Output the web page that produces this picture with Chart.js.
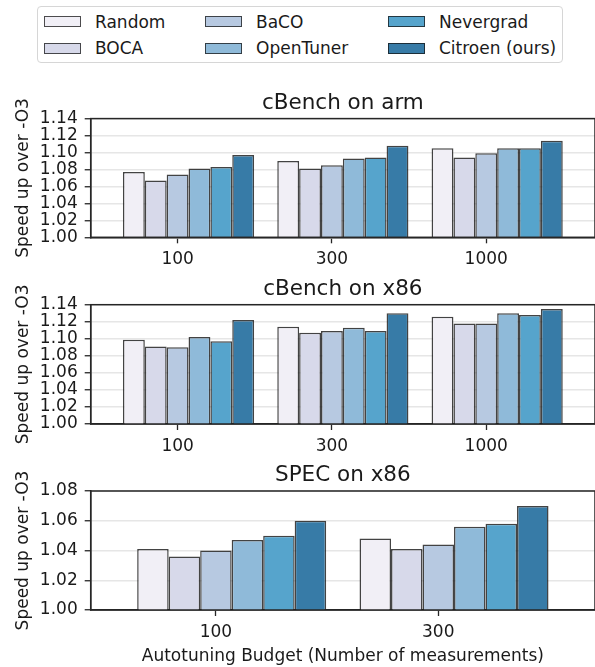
<!DOCTYPE html>
<html>
<head>
<meta charset="utf-8">
<script src="https://cdn.jsdelivr.net/npm/chart.js@4.4.1/dist/chart.umd.min.js"></script>
<style>
  body { margin: 0; width: 595px; height: 667px; background: #fff; position: relative; overflow: hidden; font-family: "DejaVu Sans", sans-serif; }
  canvas { position: absolute; left: 0; }
  #legend { position: absolute; left: 37px; top: 6px; width: 526px; height: 57px; border: 1px solid #d6d6d6; border-radius: 4px; box-sizing: border-box; }
  .item { position: absolute; height: 20px; display: flex; align-items: center; font-size: 17px; color: #1a1a1a; white-space: nowrap; }
  .patch { width: 37px; height: 11px; border: 1px solid rgba(20,20,20,0.75); margin-right: 14px; box-sizing: border-box; }
</style>
</head>
<body>
<div id="legend"></div>
<canvas id="armChart"></canvas>
<canvas id="x86Chart"></canvas>
<canvas id="specChart"></canvas>
<script>
const methods = ["Random", "BOCA", "BaCO", "OpenTuner", "Nevergrad", "Citroen (ours)"];
const colors = ["#f1eff6", "#d7d9ea", "#b7c9e1", "#8fbad9", "#56a4cc", "#377ba7"];

const cbenchBudgets = ["100", "300", "1000"];
const specBudgets = ["100", "300"];

const cbenchTicks = [1.00, 1.02, 1.04, 1.06, 1.08, 1.10, 1.12, 1.14];
const specTicks = [1.00, 1.02, 1.04, 1.06, 1.08];

// one row per method, one value per budget
const armSpeedup = [
  [1.077, 1.090, 1.105],
  [1.067, 1.081, 1.094],
  [1.074, 1.085, 1.099],
  [1.081, 1.093, 1.105],
  [1.083, 1.094, 1.105],
  [1.097, 1.108, 1.114],
];
const x86Speedup = [
  [1.099, 1.114, 1.126],
  [1.091, 1.107, 1.118],
  [1.090, 1.109, 1.118],
  [1.102, 1.113, 1.130],
  [1.097, 1.109, 1.128],
  [1.122, 1.130, 1.135],
];
const specSpeedup = [
  [1.041, 1.048],
  [1.036, 1.041],
  [1.040, 1.044],
  [1.047, 1.056],
  [1.050, 1.058],
  [1.060, 1.070],
];

const FONT = "'DejaVu Sans', sans-serif";
const INK = "#262626";
const GROUP = 0.85;
const MARGIN = 0.634;

// legend (3 columns, filled top to bottom)
const legend = document.getElementById("legend");
const colX = [6, 167, 350];
const rowY = [4.5, 31];
methods.forEach((m, i) => {
  const item = document.createElement("div");
  item.className = "item";
  item.style.left = colX[Math.floor(i / 2)] + "px";
  item.style.top = rowY[i % 2] + "px";
  const patch = document.createElement("div");
  patch.className = "patch";
  patch.style.background = colors[i];
  item.appendChild(patch);
  item.appendChild(document.createTextNode(m));
  legend.appendChild(item);
});

const framePlugin = {
  id: "frame",
  afterDraw(chart) {
    const a = chart.chartArea;
    const ctx = chart.ctx;
    ctx.save();
    ctx.strokeStyle = INK;
    ctx.lineWidth = 1.5;
    ctx.strokeRect(a.left, a.top, a.right - a.left, a.bottom - a.top);
    ctx.restore();
  },
};

function makeChart(id, title, budgets, values, yTicks, plotTop, plotBottom, xTitle) {
  const canvas = document.getElementById(id);
  const top = Math.floor(plotTop - 39);
  const bottom = xTitle ? 667 : Math.ceil(plotBottom + 30);
  canvas.width = 595;
  canvas.height = bottom - top;
  canvas.style.top = top + "px";

  const padTop = plotTop - 15.2 - 12.9 - top;
  const padBottom = plotTop - top - padTop - 25.8;
  const xh = bottom - plotBottom;
  const shift = GROUP / 12;

  const datasets = methods.map((m, i) => ({
    label: m,
    data: budgets.map((b, j) => ({ x: j, y: values[i][j] })),
    backgroundColor: colors[i],
    borderColor: "rgba(20,20,20,0.8)",
    borderWidth: 1.5,
    categoryPercentage: GROUP,
    barPercentage: 1,
  }));

  return new Chart(canvas, {
    type: "bar",
    data: { datasets },
    options: {
      responsive: false,
      animation: false,
      layout: { padding: 0 },
      plugins: {
        legend: { display: false },
        tooltip: { enabled: false },
        title: {
          display: true,
          fullSize: false,
          text: title,
          color: "#1a1a1a",
          font: { family: FONT, size: 21.5, weight: "normal", lineHeight: 1.2 },
          padding: { top: padTop, bottom: padBottom },
        },
      },
      scales: {
        x: {
          type: "linear",
          bounds: "data",
          offset: false,
          min: -MARGIN,
          max: budgets.length - 1 + MARGIN,
          afterBuildTicks: (scale) => {
            scale.ticks = budgets.map((b, j) => ({ value: j - shift }));
          },
          afterFit: (scale) => { scale.height = xh; },
          ticks: {
            callback: (v, idx) => budgets[idx],
            color: "#1a1a1a",
            font: { family: FONT, size: 17 },
            padding: 6.5,
            maxRotation: 0,
            autoSkip: false,
          },
          grid: { offset: false, drawOnChartArea: false, drawTicks: true, tickLength: 6, tickColor: INK, tickWidth: 1.3 },
          border: { display: true, color: INK, width: 1.5 },
          title: {
            display: !!xTitle,
            text: xTitle || "",
            color: "#1a1a1a",
            font: { family: FONT, size: 17, lineHeight: 1.2 },
            padding: { top: 0, bottom: 0.4 },
          },
        },
        y: {
          bounds: "data",
          min: yTicks[0],
          max: yTicks[yTicks.length - 1],
          afterBuildTicks: (scale) => {
            scale.ticks = yTicks.map((t) => ({ value: t }));
          },
          afterFit: (scale) => { scale.width = 90.7; },
          ticks: {
            callback: (v) => v.toFixed(2),
            color: "#1a1a1a",
            font: { family: FONT, size: 17 },
            padding: 7,
            autoSkip: false,
          },
          grid: { color: "#e6e6e6", lineWidth: 1.5, tickLength: 6, tickColor: INK, tickWidth: 1.3 },
          border: { display: true, color: INK, width: 1.5 },
          title: {
            display: true,
            text: "Speed up over -O3",
            color: "#1a1a1a",
            font: { family: FONT, size: 17, lineHeight: 1.2 },
            padding: { top: 13, bottom: 0 },
          },
        },
      },
    },
    plugins: [framePlugin],
  });
}

makeChart("armChart", "cBench on arm", cbenchBudgets, armSpeedup, cbenchTicks, 118.6, 237.3);
makeChart("x86Chart", "cBench on x86", cbenchBudgets, x86Speedup, cbenchTicks, 304.7, 424);
makeChart("specChart", "SPEC on x86", specBudgets, specSpeedup, specTicks, 491, 610,
  "Autotuning Budget (Number of measurements)");
</script>
</body>
</html>
